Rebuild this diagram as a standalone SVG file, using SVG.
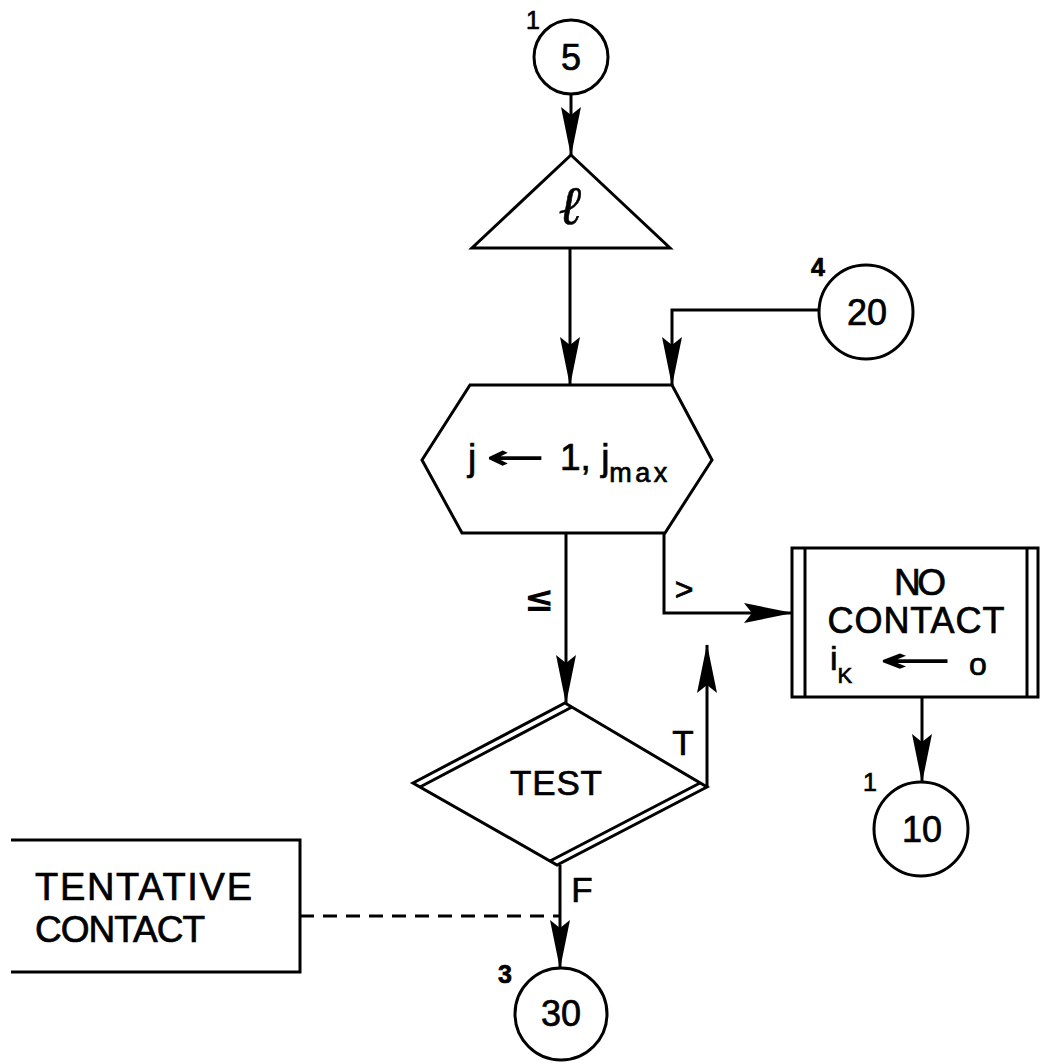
<svg xmlns="http://www.w3.org/2000/svg" width="1041" height="1063" viewBox="0 0 1041 1063">
  <style>
    .ln { fill: none; stroke: #000; stroke-width: 3; }
    .dash { fill: none; stroke: #000; stroke-width: 3; stroke-dasharray: 14 9; }
    .sh { fill: #fff; stroke: #000; stroke-width: 3; }
    .t { font-family: "Liberation Sans", Arial, sans-serif; fill: #000; stroke: #000; stroke-width: 0.7; }
    .sym { font-family: "DejaVu Sans", sans-serif; fill: #000; }
    .big { font-size: 36px; }
    .tag { font-size: 25px; }
  </style>
  <defs>
    <!-- notched dart arrowhead, tip at the path end -->
    <marker id="dart" viewBox="-50 -12 52 24" refX="0" refY="0" markerWidth="52" markerHeight="24" markerUnits="userSpaceOnUse" orient="auto">
      <path d="M1,0 L-48,-10 L-40,0 L-48,10 Z" fill="#000"/>
    </marker>
  </defs>
  <rect width="1041" height="1063" fill="#fff"/>

  <!-- connectors -->
  <g id="connectors">
    <path class="ln" d="M571,94 V155" marker-end="url(#dart)"/>
    <path class="ln" d="M570,249 V385" marker-end="url(#dart)"/>
    <path class="ln" d="M819,310 H672 V385" marker-end="url(#dart)"/>
    <path class="ln" d="M566,533 V703" marker-end="url(#dart)"/>
    <path class="ln" d="M664,533 V613 H792" marker-end="url(#dart)"/>
    <path class="ln" d="M922,697 V782" marker-end="url(#dart)"/>
    <path class="ln" d="M707,787 V645" marker-end="url(#dart)"/>
    <path class="ln" d="M560,865 V968" marker-end="url(#dart)"/>
    <path class="dash" d="M300,916 H560"/>
    <text class="sym" x="539" y="611" font-size="36" font-weight="bold" text-anchor="middle">≤</text>
    <text class="t" x="684" y="600" font-size="32" text-anchor="middle">&gt;</text>
    <text class="t" x="683" y="755" font-size="35" text-anchor="middle">T</text>
    <text class="t" x="582" y="902" font-size="35" text-anchor="middle">F</text>
  </g>

  <!-- entry connector 5 -->
  <g id="node-c5">
    <circle class="sh" cx="571" cy="57" r="37"/>
    <text class="t big" x="571" y="70" text-anchor="middle">5</text>
    <text class="t tag" x="533" y="29" text-anchor="middle">1</text>
  </g>

  <!-- loop index triangle -->
  <g id="node-ell">
    <polygon class="sh" points="571,155 670,248 472,248"/>
    <text x="571" y="224" font-family="DejaVu Serif, serif" font-style="italic" font-weight="bold" font-size="54" text-anchor="middle" fill="#000" stroke="#000" stroke-width="0.6">ℓ</text>
  </g>

  <!-- entry connector 20 -->
  <g id="node-c20">
    <circle class="sh" cx="866" cy="312" r="47"/>
    <text class="t big" x="867" y="325" text-anchor="middle">20</text>
    <text class="t tag" x="818" y="276" text-anchor="middle" font-weight="bold">4</text>
  </g>

  <!-- loop hexagon -->
  <g id="node-loop">
    <polygon class="sh" points="470,385 672,385 712,460 665,533 462,533 422,460"/>
    <text class="t" x="468" y="470" font-size="37">j</text>
    <text class="sym" x="485" y="469" font-size="34" font-weight="bold" textLength="60" lengthAdjust="spacingAndGlyphs">←</text>
    <text class="t" x="560" y="470" font-size="37">1, j<tspan font-size="27" dy="12" textLength="58">max</tspan></text>
  </g>

  <!-- NO CONTACT process box -->
  <g id="node-nocontact">
    <rect class="sh" x="792" y="548" width="246" height="149"/>
    <path class="ln" d="M805,548 V697 M1027,548 V697"/>
    <text class="t" x="920" y="595" font-size="37" text-anchor="middle" textLength="52">NO</text>
    <text class="t" x="916" y="633" font-size="36" text-anchor="middle" textLength="177">CONTACT</text>
    <text class="t" x="830" y="670" font-size="34">i<tspan font-size="22" dy="13">K</tspan></text>
    <text class="sym" x="878" y="672" font-size="34" font-weight="bold" textLength="74" lengthAdjust="spacingAndGlyphs">←</text>
    <text class="t" x="978" y="675" font-size="32" text-anchor="middle">o</text>
  </g>

  <!-- exit connector 10 -->
  <g id="node-c10">
    <circle class="sh" cx="921" cy="829" r="47"/>
    <text class="t big" x="922" y="842" text-anchor="middle">10</text>
    <text class="t tag" x="870" y="791" text-anchor="middle">1</text>
  </g>

  <!-- TEST decision -->
  <g id="node-test">
    <polygon class="sh" points="565,703 707,787 557,865 413,783"/>
    <path class="ln" d="M420,787 L572,707 M550,861 L700,783"/>
    <text class="t" x="556" y="795" font-size="35" text-anchor="middle" textLength="92">TEST</text>
  </g>

  <!-- annotation -->
  <g id="node-tentative">
    <path class="ln" d="M11,840 H300 V972 H11"/>
    <text class="t" x="35" y="900" font-size="38" textLength="217">TENTATIVE</text>
    <text class="t" x="35" y="942" font-size="37" textLength="170">CONTACT</text>
  </g>

  <!-- exit connector 30 -->
  <g id="node-c30">
    <circle class="sh" cx="561" cy="1014" r="46"/>
    <text class="t big" x="561" y="1026" text-anchor="middle">30</text>
    <text class="t tag" x="505" y="983" text-anchor="middle" font-weight="bold">3</text>
  </g>
</svg>
